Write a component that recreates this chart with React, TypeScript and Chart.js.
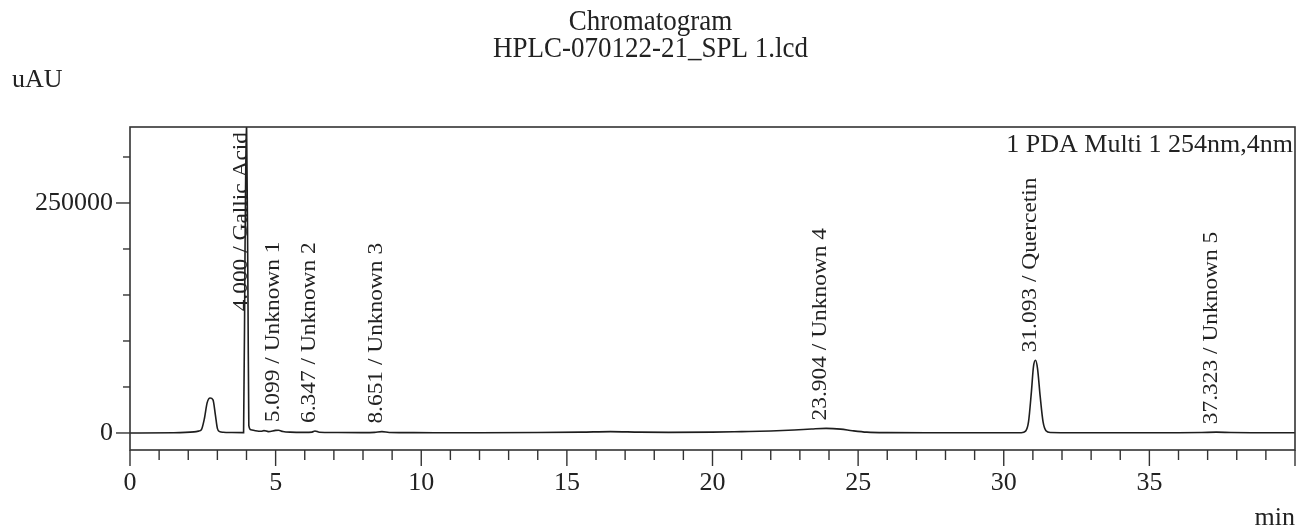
import React, { useEffect, useRef } from "react";
import { Chart, registerables } from "chart.js";

Chart.register(...registerables);

// Chromatogram signal (retention time in min, response in uAU)
const times = [
  0, 1.5, 2.2, 2.35, 2.45, 2.55, 2.65, 2.75, 2.85, 2.93, 3.0, 3.08, 3.2, 3.5, 3.9,
  3.95, 4.0, 4.05, 4.08, 4.15, 4.3, 4.5, 4.6, 4.75, 5.0, 5.1, 5.25, 5.5, 6.0, 6.25,
  6.35, 6.5, 7.0, 8.0, 8.4, 8.65, 8.9, 9.5, 10.5, 12.0, 14.0, 15.5, 16.5, 17.5,
  18.5, 20.0, 21.0, 22.0, 22.8, 23.4, 23.9, 24.4, 24.8, 25.3, 26.0, 28.0, 30.0,
  30.6, 30.75, 30.85, 30.95, 31.02, 31.09, 31.16, 31.25, 31.35, 31.45, 31.6, 32.5,
  34.0, 36.0, 36.8, 37.3, 37.8, 38.5, 40.0,
];
const signal = [
  0, 200, 1200, 2000, 3500, 15000, 33000, 38000, 36000, 20000, 5000, 1500, 800, 500, 400,
  200000, 345000, 150000, 8000, 3500, 2500, 1800, 2600, 1500, 2800, 3000, 1600, 900, 700, 900,
  2200, 800, 500, 400, 700, 1500, 600, 400, 300, 300, 500, 900, 1500, 900,
  700, 900, 1500, 2200, 3200, 4300, 5000, 4200, 2500, 900, 400, 250, 200,
  300, 2000, 12000, 45000, 72000, 79000, 70000, 40000, 12000, 2500, 500, 250,
  200, 250, 500, 900, 500, 300, 200,
];

// Peak annotations
const peakTimes = [4.0, 5.099, 6.347, 8.651, 23.904, 31.093, 37.323];
const peakNames = ["Gallic Acid", "Unknown 1", "Unknown 2", "Unknown 3", "Unknown 4", "Quercetin", "Unknown 5"];

// Axis settings
const xMin = 0;
const xMax = 40;
const xStep = 1;
const xLabelEvery = 5;
const yMin = -18500;
const yMax = 332600;
const yTickValues = [0, 50000, 100000, 150000, 200000, 250000, 300000];
const yLabelValues = [0, 250000];

const titleLines = ["Chromatogram", "HPLC-070122-21_SPL 1.lcd"];
const yUnit = "uAU";
const xUnit = "min";
const channelLabel = "1 PDA Multi 1 254nm,4nm";

const FONT = '"Liberation Serif", "Times New Roman", serif';
const INK = "#222";

const decorPlugin = {
  id: "decor",
  afterDatasetsDraw(chart: any) {
    const { ctx, chartArea, scales } = chart;
    const xs = scales.x;
    const ys = scales.y;
    ctx.save();
    // frame
    ctx.strokeStyle = "#333";
    ctx.lineWidth = 1.6;
    ctx.strokeRect(chartArea.left, chartArea.top, chartArea.right - chartArea.left, chartArea.bottom - chartArea.top);
    // x tick marks
    ctx.lineWidth = 1.4;
    xs.ticks.forEach((t: any) => {
      const px = xs.getPixelForValue(t.value);
      const major = Math.abs(t.value % xLabelEvery) < 1e-6;
      ctx.beginPath();
      ctx.moveTo(px, chartArea.bottom);
      ctx.lineTo(px, chartArea.bottom + (major ? 16 : 10));
      ctx.stroke();
    });
    // y tick marks
    ys.ticks.forEach((t: any) => {
      const py = ys.getPixelForValue(t.value);
      const major = yLabelValues.includes(t.value);
      ctx.beginPath();
      ctx.moveTo(chartArea.left, py);
      ctx.lineTo(chartArea.left - (major ? 14 : 7), py);
      ctx.stroke();
    });

    // peak labels
    const data = chart.data.datasets[0].data as { x: number; y: number }[];
    ctx.fillStyle = INK;
    ctx.font = `20px ${FONT}`;
    const stretch = 1.17;
    peakTimes.forEach((pt, i) => {
      let peak = 0;
      data.forEach((d) => {
        if (Math.abs(d.x - pt) <= 0.15 && d.y > peak) peak = d.y;
      });
      const px = xs.getPixelForValue(pt);
      const py = ys.getPixelForValue(Math.min(peak, yMax));
      const text = `${pt.toFixed(3)} / ${peakNames[i]}`;
      const len = ctx.measureText(text).width * stretch;
      let bottom = py - 8;
      if (bottom - len < chartArea.top + 5) bottom = chartArea.top + 5 + len;
      ctx.save();
      ctx.translate(px, bottom);
      ctx.rotate(-Math.PI / 2);
      ctx.scale(stretch, 1);
      ctx.textAlign = "left";
      ctx.textBaseline = "alphabetic";
      ctx.fillText(text, 0, 0);
      ctx.restore();
    });

    // channel label
    ctx.font = `26px ${FONT}`;
    ctx.textAlign = "right";
    ctx.textBaseline = "alphabetic";
    ctx.fillText(channelLabel, chartArea.right - 2, chartArea.top + 25);

    // title
    ctx.font = `27px ${FONT}`;
    ctx.textAlign = "center";
    const cx = chart.width / 2;
    titleLines.forEach((line, i) => {
      ctx.save();
      ctx.translate(cx, 30 + i * 27);
      ctx.scale(1, 1.12);
      ctx.fillText(line, 0, 0);
      ctx.restore();
    });

    // axis units
    ctx.font = `26px ${FONT}`;
    ctx.textAlign = "left";
    ctx.fillText(yUnit, 12, 87);
    ctx.textAlign = "right";
    ctx.fillText(xUnit, chartArea.right, chart.height - 4);
    ctx.restore();
  },
};

export default function App() {
  const ref = useRef<HTMLCanvasElement | null>(null);
  useEffect(() => {
    document.body.style.margin = "0";
    const points = times.map((t, i) => ({ x: t, y: signal[i] }));
    const chart = new Chart(ref.current as HTMLCanvasElement, {
      type: "line",
      data: {
        datasets: [
          {
            data: points,
            borderColor: "#1e1e1e",
            borderWidth: 1.6,
            pointRadius: 0,
            fill: false,
            cubicInterpolationMode: "monotone",
          },
        ],
      },
      options: {
        animation: false,
        responsive: true,
        maintainAspectRatio: false,
        events: [],
        layout: { padding: { top: 127, right: 6, left: 0, bottom: 0 } },
        plugins: { legend: { display: false }, title: { display: false }, tooltip: { enabled: false } },
        scales: {
          x: {
            type: "linear",
            min: xMin,
            max: xMax,
            grid: { display: false, drawTicks: false },
            border: { display: false },
            afterFit: (s: any) => {
              s.height = 79;
              s.paddingLeft = 0;
              s.paddingRight = 0;
            },
            ticks: {
              stepSize: xStep,
              autoSkip: false,
              maxRotation: 0,
              padding: 18,
              color: INK,
              font: { family: FONT, size: 26 },
              callback: (v: any) => {
                const n = Number(v);
                return n % xLabelEvery === 0 && n < xMax ? String(n) : "";
              },
            },
          },
          y: {
            type: "linear",
            min: yMin,
            max: yMax,
            grid: { display: false, drawTicks: false },
            border: { display: false },
            afterBuildTicks: (s: any) => {
              s.ticks = yTickValues.map((v) => ({ value: v }));
            },
            afterFit: (s: any) => {
              s.width = 130;
              s.paddingTop = 0;
              s.paddingBottom = 0;
            },
            ticks: {
              autoSkip: false,
              padding: 17,
              color: INK,
              font: { family: FONT, size: 26 },
              callback: (v: any) => (yLabelValues.includes(Number(v)) ? String(v) : ""),
            },
          },
        },
      },
      plugins: [decorPlugin],
    } as any);
    return () => chart.destroy();
  }, []);
  return (
    <div style={{ position: "fixed", left: 0, top: 0, width: 1301, height: 529, background: "#fff" }}>
      <canvas ref={ref} />
    </div>
  );
}
